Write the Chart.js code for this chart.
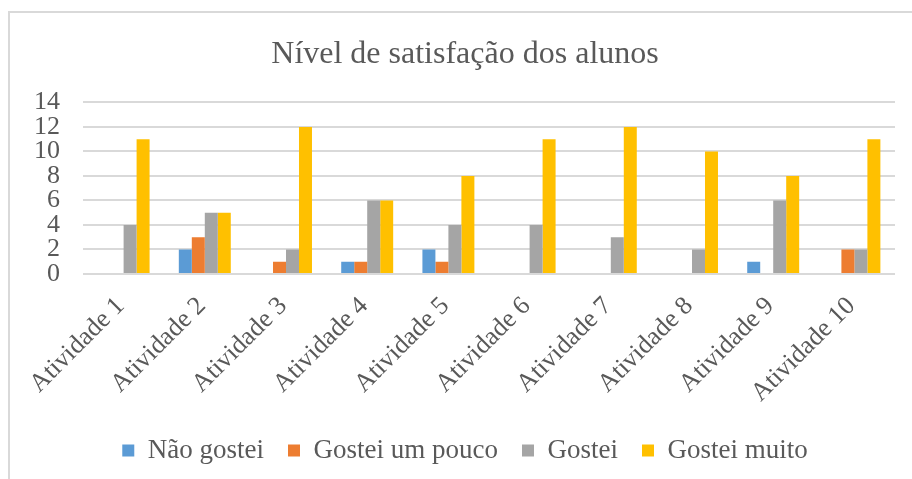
<!DOCTYPE html>
<html>
<head>
<meta charset="utf-8">
<script src="https://cdn.jsdelivr.net/npm/chart.js@4/dist/chart.umd.min.js"></script>
<style>
  html, body { margin: 0; padding: 0; background: #fff; }
  .wrap { position: relative; width: 912px; height: 479px; overflow: hidden; }
  .frame { position: absolute; left: 8px; top: 11px; right: -10px; bottom: -10px;
           border-top: 2px solid #d9d9d9; border-left: 2px solid #d9d9d9; }
  canvas { position: absolute; left: 0; top: 0; }
</style>
</head>
<body>
<div class="wrap">
  <div class="frame"></div>
  <canvas id="chart" width="912" height="479"></canvas>
</div>
<script>
// dados
const atividades = ['Atividade 1', 'Atividade 2', 'Atividade 3', 'Atividade 4', 'Atividade 5',
                    'Atividade 6', 'Atividade 7', 'Atividade 8', 'Atividade 9', 'Atividade 10'];
const naoGostei      = [0, 2, 0, 1, 2, 0, 0, 0, 1, 0];
const gosteiUmPouco  = [0, 3, 1, 1, 1, 0, 0, 0, 0, 2];
const gostei         = [4, 5, 2, 6, 4, 4, 3, 2, 6, 2];
const gosteiMuito    = [11, 5, 12, 6, 8, 11, 12, 10, 8, 11];
const yTicks = [0, 2, 4, 6, 8, 10, 12, 14];

const serif = '"Liberation Serif", "Times New Roman", serif';
const txt = '#595959';

const mk = (label, data, color) => ({
    label, data, backgroundColor: color, borderWidth: 0,
    categoryPercentage: 0.64, barPercentage: 1
});

new Chart(document.getElementById('chart'), {
    type: 'bar',
    data: {
        labels: atividades,
        datasets: [
            mk('Não gostei', naoGostei, '#5B9BD5'),
            mk('Gostei um pouco', gosteiUmPouco, '#ED7D31'),
            mk('Gostei', gostei, '#A5A5A5'),
            mk('Gostei muito', gosteiMuito, '#FFC000')
        ]
    },
    options: {
        responsive: false,
        animation: false,
        layout: { padding: { top: 18, right: 17, bottom: 5, left: 35 } },
        plugins: {
            title: {
                display: true,
                text: 'Nível de satisfação dos alunos',
                color: txt,
                font: { family: serif, size: 32, weight: 'normal' },
                padding: { top: 17, bottom: 29 }
            },
            legend: {
                position: 'bottom',
                labels: {
                    color: txt,
                    font: { family: serif, size: 27 },
                    boxWidth: 12, boxHeight: 12,
                    padding: 24
                }
            },
            tooltip: { enabled: false }
        },
        scales: {
            x: {
                grid: { display: false },
                border: { display: false },
                ticks: {
                    color: txt,
                    font: { family: serif, size: 26 },
                    minRotation: 45, maxRotation: 45,
                    padding: 9,
                    labelOffset: -3
                },
                afterFit: s => { s.height = 139; }
            },
            y: {
                min: 0, max: 14,
                afterBuildTicks: s => { s.ticks = yTicks.map(v => ({ value: v })); },
                grid: { color: '#d9d9d9', lineWidth: 2, drawTicks: false },
                border: { display: false },
                ticks: {
                    color: txt,
                    font: { family: serif, size: 26 },
                    padding: 23,
                    autoSkip: false
                },
                afterFit: s => { s.width = 48; }
            }
        }
    }
});
</script>
</body>
</html>
